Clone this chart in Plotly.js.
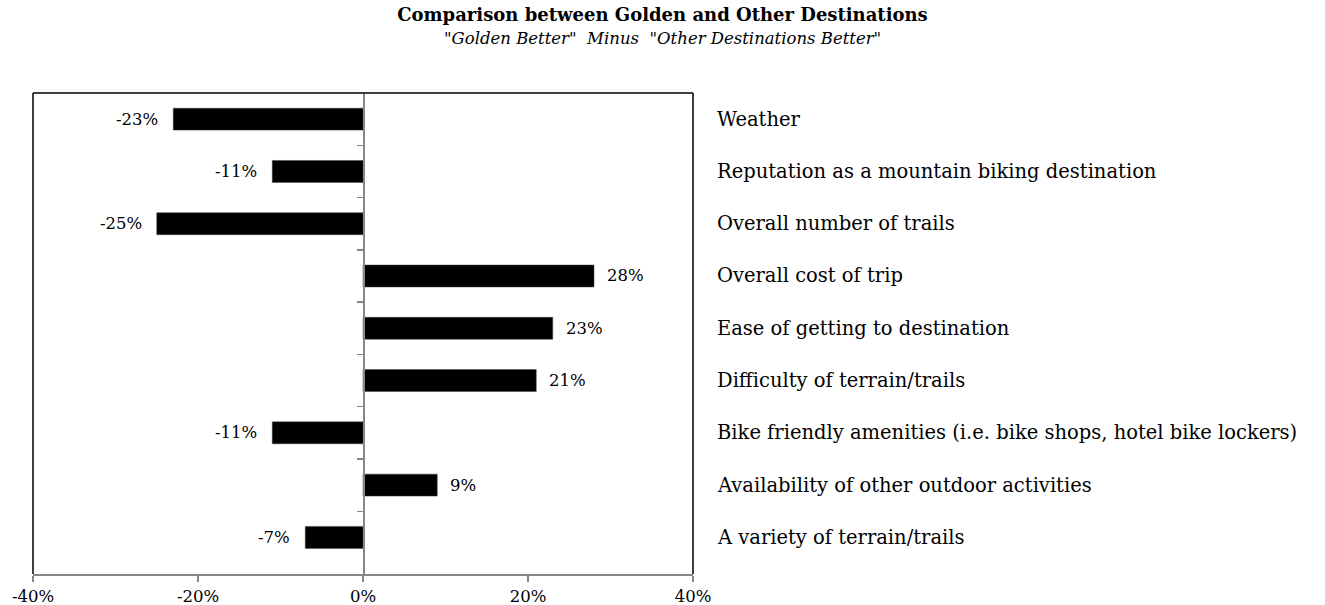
<!DOCTYPE html>
<html>
<head>
<meta charset="utf-8">
<script src="https://cdn.plot.ly/plotly-3.0.1.min.js"></script>
<style>html,body{margin:0;padding:0;background:#fff;}#chart{width:1325px;height:605px;}</style>
</head>
<body>
<div id="chart"></div>
<script>
const categories = [
  "Weather",
  "Reputation as a mountain biking destination",
  "Overall number of trails",
  "Overall cost of trip",
  "Ease of getting to destination",
  "Difficulty of terrain/trails",
  "Bike friendly amenities (i.e. bike shops, hotel bike lockers)",
  "Availability of other outdoor activities",
  "A variety of terrain/trails"
];
const values = [-23, -11, -25, 28, 23, 21, -11, 9, -7];
const xTickVals = [-40, -20, 0, 20, 40];
const xTickText = ["-40%", "-20%", "0%", "20%", "40%"];
const titleText = "Comparison between Golden and Other Destinations";
const subtitleText = '"<i>Golden Better</i>"  <i>Minus</i>  "<i>Other Destinations Better</i>"';

const FONT = "DejaVu Serif, Liberation Serif, serif";
const GRAY = "#878787";

const trace = {
  type: "bar",
  orientation: "h",
  y: categories,
  x: values,
  marker: { color: "#000000", line: { color: "#444", width: 0.5 } },
  hoverinfo: "skip",
  showlegend: false
};

const annotations = [];
categories.forEach((c, i) => {
  const v = values[i];
  annotations.push({
    x: v, y: c, xref: "x", yref: "y",
    text: v + "%",
    showarrow: false,
    xanchor: v < 0 ? "right" : "left",
    xshift: v < 0 ? -13 : 11,
    font: { family: FONT, size: 16.5, color: "#000" }
  });
  annotations.push({
    x: 1, y: c, xref: "paper", yref: "y",
    text: c,
    showarrow: false,
    xanchor: "left",
    xshift: 22,
    font: { family: FONT, size: 19.5, color: "#000" }
  });
});
annotations.push({
  x: 0.9538, y: 1, xref: "paper", yref: "paper",
  xanchor: "center", yanchor: "middle",
  yshift: 55,
  text: subtitleText, showarrow: false,
  font: { family: FONT, size: 16.5, color: "#000" }
});

const layout = {
  width: 1325, height: 605,
  margin: { l: 33, r: 632, t: 93, b: 31 },
  paper_bgcolor: "#fff", plot_bgcolor: "#fff",
  title: {
    text: "<b>" + titleText + "</b>",
    x: 0.5, xref: "container", xanchor: "center",
    y: 0.975, yref: "container", yanchor: "middle",
    font: { family: FONT, size: 18, color: "#000" }
  },
  bargap: 0.58,
  xaxis: {
    range: [-40, 40],
    tickmode: "array", tickvals: xTickVals, ticktext: xTickText,
    showgrid: false, zeroline: false,
    showline: true, linecolor: GRAY, linewidth: 2,
    ticks: "outside", ticklen: 6, tickcolor: GRAY, tickwidth: 1.5,
    tickfont: { family: FONT, size: 16.5, color: "#000" },
    fixedrange: true
  },
  yaxis: {
    type: "category",
    range: [8.7, -0.5],
    anchor: "free", position: 0.5,
    showline: true, linecolor: GRAY, linewidth: 1.5,
    tickmode: "array", tickvals: [0.5, 1.5, 2.5, 3.5, 4.5, 5.5, 6.5, 7.5],
    ticktext: ["", "", "", "", "", "", "", ""],
    ticks: "outside", ticklen: 6, tickcolor: GRAY, tickwidth: 1.5,
    showticklabels: false, showgrid: false, zeroline: false,
    fixedrange: true
  },
  shapes: [
    { type: "line", xref: "paper", yref: "paper", x0: 0, x1: 1, y0: 1, y1: 1, line: { color: "#000", width: 1.5 } },
    { type: "line", xref: "paper", yref: "paper", x0: 0, x1: 0, y0: 0, y1: 1, line: { color: "#000", width: 1.5 } },
    { type: "line", xref: "paper", yref: "paper", x0: 1, x1: 1, y0: 0, y1: 1, line: { color: "#000", width: 1.5 } }
  ],
  annotations: annotations
};

Plotly.newPlot("chart", [trace], layout, { displayModeBar: false, staticPlot: true });
</script>
</body>
</html>
